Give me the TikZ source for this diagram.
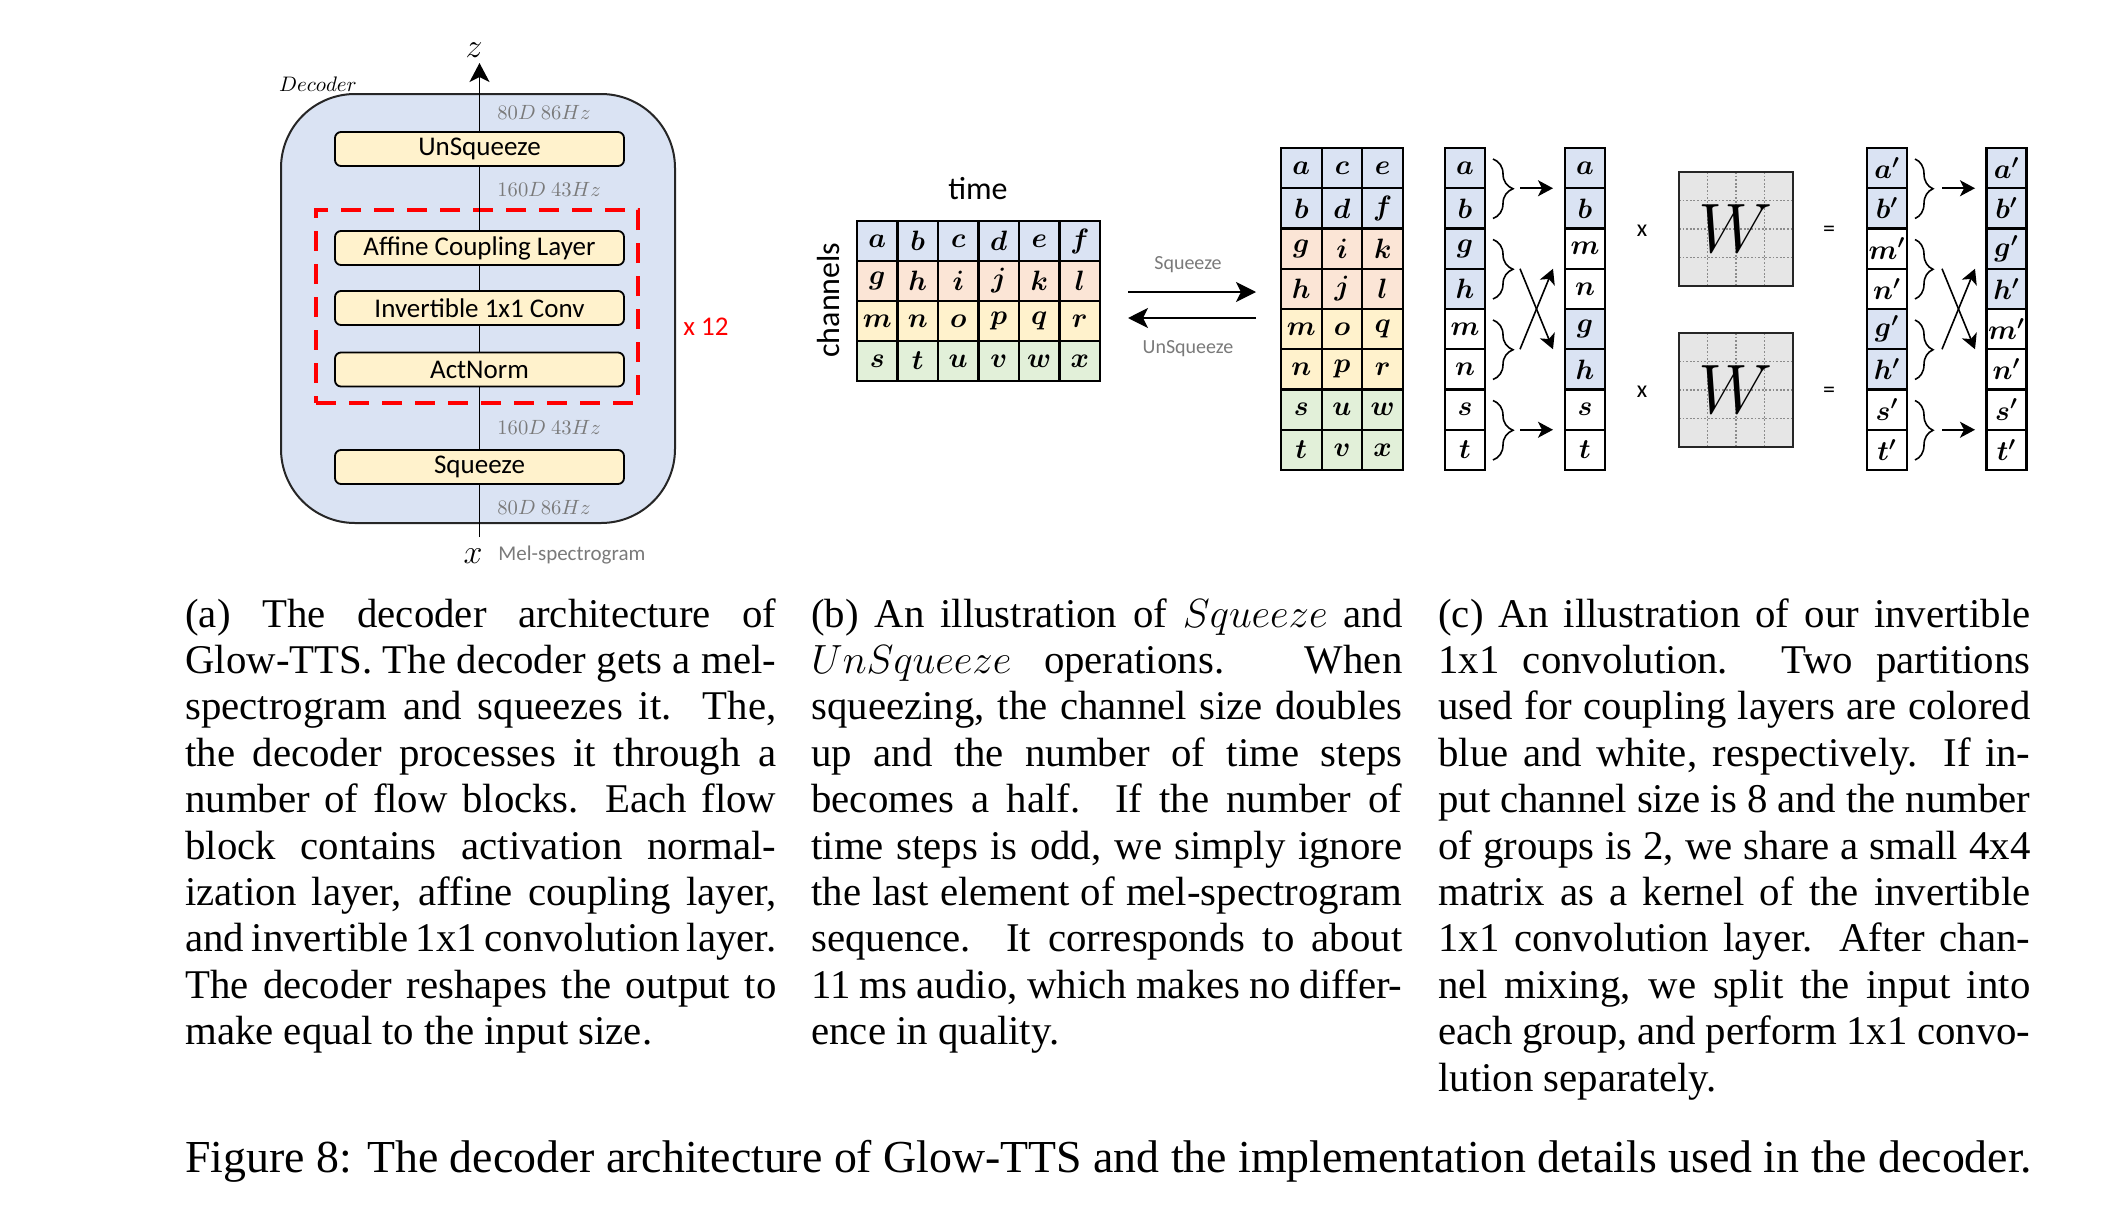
\RequirePackage{fix-cm}
\documentclass[tikz,border=0pt]{standalone}
\usepackage{amsmath,bm}
\usepackage[no-math]{fontspec}
\setmainfont{Liberation Serif}
\newfontfamily\calib{Carlito}
\usetikzlibrary{arrows.meta,decorations.pathreplacing,calc}
\definecolor{cblue}{HTML}{DAE3F3}
\definecolor{cred}{HTML}{FBE5D6}
\definecolor{cyel}{HTML}{FFF2CC}
\definecolor{cgreen}{HTML}{E2F0D9}
\definecolor{wgray}{HTML}{E6E6E6}
\definecolor{lgray}{HTML}{7A7A7A}
\newcommand\capfont{\fontsize{20.4}{23.2}\selectfont\tolerance=10000\hyphenpenalty=10000\exhyphenpenalty=10000\relax}
\tikzset{
  decbox/.style={draw=black!85, line width=1pt, fill=cblue, rounded corners=37pt,
    minimum width=197pt, minimum height=214.5pt, inner sep=0pt},
  ybox/.style={draw=black, line width=0.9pt, fill=cyel, rounded corners=3pt,
    minimum width=144.5pt, minimum height=17pt, inner sep=0pt,
    font=\calib\fontsize{13.5}{16}\selectfont},
  dimlbl/.style={inner sep=0pt, text=lgray, font=\fontsize{10.3}{12}\selectfont},
  cell/.style={draw=black, line width=1.1pt, minimum width=20.25pt, minimum height=20pt,
    inner sep=0pt, font=\fontsize{14}{16}\selectfont},
  arr/.style={-{Stealth[length=7.5pt,width=8pt,inset=2pt]}, line width=0.8pt},
  brc/.style={decorate, decoration={brace, amplitude=10pt}, line width=0.8pt},
  brcc/.style={decorate, decoration={brace, amplitude=9pt}, line width=0.8pt},
  wgrid/.style={draw=black!45, line width=0.6pt, dash pattern=on 0.9pt off 0.9pt},
  wbox/.style={draw=black!85, line width=1pt, fill=wgray, minimum size=57pt, inner sep=0pt,
    font=\fontsize{35}{37}\selectfont,
    path picture={
      \foreach \i in {-1,0,1}{
        \draw[wgrid] ([xshift=\i*14.25pt]path picture bounding box.north) -- ([xshift=\i*14.25pt]path picture bounding box.south);
        \draw[wgrid] ([yshift=\i*14.25pt]path picture bounding box.west) -- ([yshift=\i*14.25pt]path picture bounding box.east);
      }}},
  oplbl/.style={inner sep=0pt, font=\calib\fontsize{12}{14}\selectfont},
  sqlbl/.style={inner sep=0pt, text=lgray, font=\calib\fontsize{10}{12}\selectfont},
  axlbl/.style={inner sep=0pt, font=\calib\fontsize{16}{19}\selectfont},
}
\begin{document}
\begin{tikzpicture}[x=0.5pt,y=-0.5pt]
\fill[white] (0,0) rectangle (2106,1232);
\useasboundingbox (0,0) rectangle (2106,1232);

% ---------------- (a) decoder ----------------
\node[decbox] (dec) at (478,308.5) {};
\node[inner sep=0pt, font=\fontsize{10.5}{12}\selectfont] (declbl) at (318,84) {$Decoder$};
\node[draw=red, line width=2pt, dash pattern=on 10pt off 6.5pt, minimum width=161pt, minimum height=96.5pt, inner sep=0pt] (blk) at (477,306.5) {};
\node[anchor=west, inner sep=0pt, text=red, font=\calib\fontsize{13.5}{16}\selectfont] (rep) at (683,327) {x 12};

\node[ybox] (unsq) at (479.5,149) {UnSqueeze};
\node[ybox] (aff) at (479.5,248) {Affine Coupling Layer};
\node[ybox] (inv) at (479.5,308) {Invertible 1x1 Conv};
\node[ybox] (act) at (479.5,369.5) {ActNorm};
\node[ybox] (sq) at (479.5,467) {Squeeze};

\coordinate (xin) at (479.5,537);
\coordinate (zout) at (479.5,63);
\draw[line width=0.7pt] (xin) -- (sq.south);
\draw[line width=0.7pt] (sq.north) -- (act.south);
\draw[line width=0.7pt] (act.north) -- (inv.south);
\draw[line width=0.7pt] (inv.north) -- (aff.south);
\draw[line width=0.7pt] (aff.north) -- (unsq.south);
\draw[line width=0.7pt, -{Stealth[length=9.5pt,width=10pt,inset=2.5pt]}] (unsq.north) -- (zout);

\node[inner sep=0pt, font=\fontsize{17}{19}\selectfont] (zlbl) at (474,50) {$z$};
\node[inner sep=0pt, font=\fontsize{17}{19}\selectfont] (xlbl) at (473,556) {$x$};
\node[anchor=west, inner sep=0pt, text=lgray, font=\calib\fontsize{10.5}{12}\selectfont] (mel) at (498,555) {Mel-spectrogram};

\node[dimlbl, anchor=west] (d1) at (497,112) {$80D\ 86Hz$};
\node[dimlbl, anchor=west] (d2) at (497,189) {$160D\ 43Hz$};
\node[dimlbl, anchor=west] (d3) at (497,427) {$160D\ 43Hz$};
\node[dimlbl, anchor=west] (d4) at (497,507) {$80D\ 86Hz$};

% ---------------- (b) squeeze ----------------
\node[axlbl] (time) at (978,189) {time};
\node[axlbl, rotate=90] (chan) at (829,300) {channels};
\foreach \l [count=\c] in {a,b,c,d,e,f}
  \node[cell, fill=cblue] (A1\c) at ({857+40.5*(\c-0.5)},241) {$\bm{\l}$};
\foreach \l [count=\c] in {g,h,i,j,k,l}
  \node[cell, fill=cred] (A2\c) at ({857+40.5*(\c-0.5)},281) {$\bm{\l}$};
\foreach \l [count=\c] in {m,n,o,p,q,r}
  \node[cell, fill=cyel] (A3\c) at ({857+40.5*(\c-0.5)},321) {$\bm{\l}$};
\foreach \l [count=\c] in {s,t,u,v,w,x}
  \node[cell, fill=cgreen] (A4\c) at ({857+40.5*(\c-0.5)},361) {$\bm{\l}$};

\coordinate (sqa) at (1128,292);
\coordinate (sqb) at (1256,292);
\coordinate (usa) at (1256,318);
\coordinate (usb) at (1128,318);
\draw[arr, -{Stealth[length=10pt,width=10pt,inset=2.5pt]}] (sqa) -- (sqb);
\draw[arr, -{Stealth[length=10pt,width=10pt,inset=2.5pt]}] (usa) -- (usb);
\node[sqlbl] (sqt) at (1188,265) {Squeeze};
\node[sqlbl] (ust) at (1188,349) {UnSqueeze};

\foreach \la/\lb/\lc/\cc [count=\r] in {a/c/e/cblue,b/d/f/cblue,g/i/k/cred,h/j/l/cred,m/o/q/cyel,n/p/r/cyel,s/u/w/cgreen,t/v/x/cgreen}{
  \node[cell, fill=\cc, minimum width=20.33pt, minimum height=20.125pt] (B\r1) at (1301.3,{148+40.25*(\r-0.5)}) {$\bm{\la}$};
  \node[cell, fill=\cc, minimum width=20.33pt, minimum height=20.125pt] (B\r2) at (1342,{148+40.25*(\r-0.5)}) {$\bm{\lb}$};
  \node[cell, fill=\cc, minimum width=20.33pt, minimum height=20.125pt] (B\r3) at (1382.7,{148+40.25*(\r-0.5)}) {$\bm{\lc}$};
}

% ---------------- (c) invertible 1x1 conv ----------------
\foreach \l/\cc [count=\r] in {a/cblue,b/cblue,g/cblue,h/cblue,m/white,n/white,s/white,t/white}
  \node[cell, fill=\cc, minimum width=20pt, minimum height=20.125pt] (C1\r) at (1465,{148+40.25*(\r-0.5)}) {$\bm{\l}$};
\foreach \l/\cc [count=\r] in {a/cblue,b/cblue,m/white,n/white,g/cblue,h/cblue,s/white,t/white}
  \node[cell, fill=\cc, minimum width=20pt, minimum height=20.125pt] (C2\r) at (1585,{148+40.25*(\r-0.5)}) {$\bm{\l}$};
\foreach \l/\cc [count=\r] in {a/cblue,b/cblue,m/white,n/white,g/cblue,h/cblue,s/white,t/white}
  \node[cell, fill=\cc, minimum width=20pt, minimum height=20.125pt] (C3\r) at (1887,{148+40.25*(\r-0.5)}) {$\bm{\l}^{\bm{\prime}}$};
\foreach \l/\cc [count=\r] in {a/cblue,b/cblue,g/cblue,h/cblue,m/white,n/white,s/white,t/white}
  \node[cell, fill=\cc, minimum width=20pt, minimum height=20.125pt] (C4\r) at (2006.5,{148+40.25*(\r-0.5)}) {$\bm{\l}^{\bm{\prime}}$};

\foreach \k in {1,...,4}{
  \draw[brc] (1493,{148+80.5*(\k-1)+11}) -- (1493,{148+80.5*\k-10});
  \draw[brcc] (1915,{148+80.5*(\k-1)+11}) -- (1915,{148+80.5*\k-10});
  \coordinate (p\k) at (1520,{148+80.5*(\k-0.5)});
  \coordinate (q\k) at (1553,{148+80.5*(\k-0.5)});
  \coordinate (r\k) at (1942,{148+80.5*(\k-0.5)});
  \coordinate (s\k) at (1975,{148+80.5*(\k-0.5)});
}
\draw[arr] (p1) -- (q1);
\draw[arr] (p2) -- (q3);
\draw[arr] (p3) -- (q2);
\draw[arr] (p4) -- (q4);
\draw[arr] (r1) -- (s1);
\draw[arr] (r2) -- (s3);
\draw[arr] (r3) -- (s2);
\draw[arr] (r4) -- (s4);

\node[oplbl] (x1) at (1642,231) {x};
\node[oplbl] (x2) at (1642,392) {x};
\node[wbox] (W1) at (1736,229) {$W$};
\node[wbox] (W2) at (1736,390) {$W$};
\node[oplbl] (e1) at (1829,231) {=};
\node[oplbl] (e2) at (1829,392) {=};

% ---------------- captions ----------------
\node[anchor=base west, inner sep=0pt] (capa) at (185,627) {\parbox[t]{295.5pt}{\capfont
(a) The decoder architecture of\linebreak
Glow-TTS. The decoder gets a mel-\linebreak
spectrogram and squeezes it. The,\linebreak
the decoder processes it through a\linebreak
number of flow blocks. Each flow\linebreak
block contains activation normal-\linebreak
ization layer, affine coupling layer,\linebreak
and invertible 1x1 convolution layer.\linebreak
The decoder reshapes the output to\linebreak
make equal to the input size.}};

\node[anchor=base west, inner sep=0pt] (capb) at (811,627) {\parbox[t]{295.5pt}{\capfont
(b) An illustration of $Squeeze$ and\linebreak
$UnSqueeze$ operations. When\linebreak
squeezing, the channel size doubles\linebreak
up and the number of time steps\linebreak
becomes a half. If the number of\linebreak
time steps is odd, we simply ignore\linebreak
the last element of mel-spectrogram\linebreak
sequence. It corresponds to about\linebreak
11 ms audio, which makes no differ-\linebreak
ence in quality.}};

\node[anchor=base west, inner sep=0pt] (capc) at (1438,627) {\parbox[t]{296pt}{\capfont
(c) An illustration of our invertible\linebreak
1x1 convolution. Two partitions\linebreak
used for coupling layers are colored\linebreak
blue and white, respectively. If in-\linebreak
put channel size is 8 and the number\linebreak
of groups is 2, we share a small 4x4\linebreak
matrix as a kernel of the invertible\linebreak
1x1 convolution layer. After chan-\linebreak
nel mixing, we split the input into\linebreak
each group, and perform 1x1 convo-\linebreak
lution separately.}};

\node[anchor=base west, inner sep=0pt, font=\fontsize{22.9}{26}\selectfont] (capfig) at (185,1172)
  {Figure 8: The decoder architecture of Glow-TTS and the implementation details used in the decoder.};
\end{tikzpicture}
\end{document}
